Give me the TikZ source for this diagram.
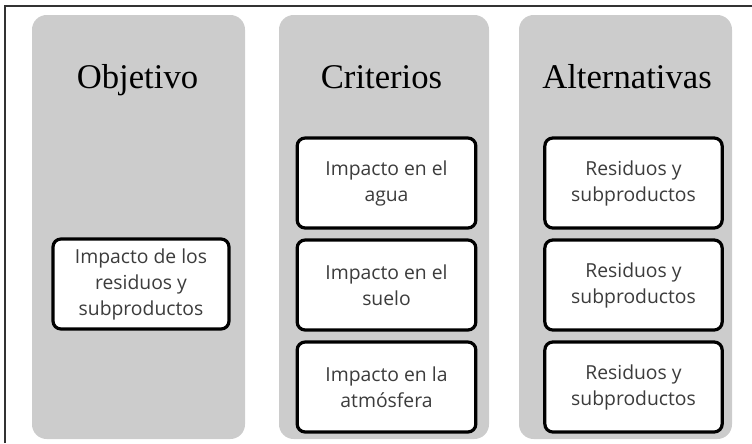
\documentclass[tikz,border=0pt]{standalone}
\usepackage{fontspec}
\setmainfont{Liberation Serif}
\newfontfamily\boxfont{Open Sans}
\definecolor{colgray}{RGB}{204,204,204}
\definecolor{frame}{RGB}{50,50,50}
\definecolor{boxtext}{RGB}{60,60,60}
\tikzset{
  colbox/.style={fill=colgray, rounded corners=11pt},
  title/.style={anchor=base, font=\fontsize{26}{30}\selectfont, text=black, inner sep=0},
  itembox/.style={draw=black, line width=2.4pt, fill=white, rounded corners=6pt,
    minimum height=67.5pt, align=center, inner sep=0,
    font=\boxfont\fontsize{14.5}{19.5}\selectfont, text=boxtext},
}
\begin{document}
\begin{tikzpicture}[x=0.75pt,y=-0.75pt]
\useasboundingbox (0,0) rectangle (752,443);
\draw[frame, line width=1.1pt] (5,443) -- (5,6) -- (752,6);
% columns
\path[colbox] (32,15) rectangle (245,439);
\path[colbox] (279,15) rectangle (489,439);
\path[colbox] (519,15) rectangle (732,439);
% titles
\node[title] (t1) at (137.5,88) {Objetivo};
\node[title] (t2) at (381.5,88) {Criterios};
\node[title] (t3) at (627,88) {Alternativas};
% boxes
\node[itembox, minimum width=132pt] (o1) at (141,284) {Impacto de los\\residuos y\\subproductos};
\node[itembox, minimum width=134pt] (c1) at (386.5,183) {Impacto en el\\agua};
\node[itembox, minimum width=134pt] (c2) at (386.5,285) {Impacto en el\\suelo};
\node[itembox, minimum width=134pt] (c3) at (386.5,387) {Impacto en la\\atmósfera};
\node[itembox, minimum width=133pt] (a1) at (633.5,183) {Residuos y\\subproductos};
\node[itembox, minimum width=133pt] (a2) at (633.5,285) {Residuos y\\subproductos};
\node[itembox, minimum width=133pt] (a3) at (633.5,387) {Residuos y\\subproductos};
\end{tikzpicture}
\end{document}
